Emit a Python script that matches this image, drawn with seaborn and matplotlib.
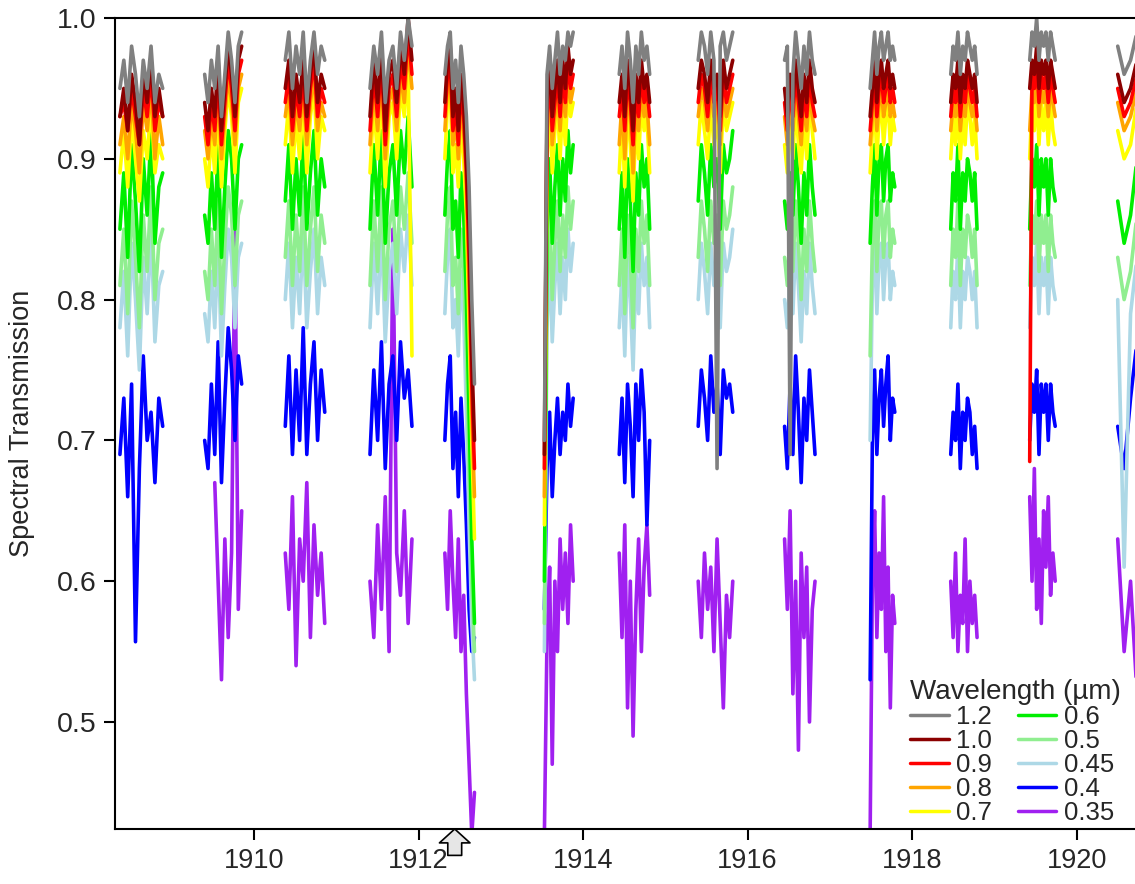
import numpy as np
import pandas as pd
import matplotlib
matplotlib.use('Agg')
import matplotlib.pyplot as plt
import seaborn as sns
from matplotlib.lines import Line2D

# observing seasons (decimal year of first / last observation)
season_start = [1908.37, 1909.40, 1910.38, 1911.41, 1912.32, 1913.53, 1914.44,
                1915.40, 1916.45, 1917.49, 1918.47, 1919.43, 1920.50]
season_end = [1908.89, 1909.85, 1910.86, 1911.92, 1912.68, 1913.88, 1914.81,
              1915.82, 1916.82, 1917.79, 1918.79, 1919.74, 1920.89]

katmai = 1912.44  # arrow under the axis

wavelengths = ['1.2', '1.0', '0.9', '0.8', '0.7', '0.6', '0.5', '0.45', '0.4', '0.35']
colors = ['#808080', '#8b0000', '#ff0000', '#ffa500', '#ffff00',
          '#00ee00', '#90ee90', '#add8e6', '#0000ff', '#a020f0']

nan = np.nan

t_12 = [
    [0.95, 0.97, 0.94, 0.98, 0.96, 0.93, 0.97, 0.95, 0.98, 0.94, 0.96, 0.95],
    [0.96, 0.94, 0.97, 0.95, 0.98, 0.93, 0.96, 0.99, 0.97, 0.94, 0.98, 0.99],
    [0.97, 0.99, 0.95, 0.98, 0.96, 0.99, 0.94, 0.97, 0.99, 0.96, 0.98, 0.97],
    [0.95, 0.98, 0.96, 0.99, 0.94, 0.97, 0.98, 0.95, 0.99, 0.97, 1.00, 0.98],
    [0.96, 0.98, 0.99, 0.95, 0.97, 0.94, 0.98, 0.96, 0.93, 0.88, 0.80, 0.74],
    [0.70, 0.96, 0.98, 0.95, 0.97, 0.99, 0.96, 0.98, 0.97, 0.99, 0.98, 0.99],
    [0.96, 0.98, 0.95, 0.99, 0.97, 0.94, 0.98, 0.96, 0.99, 0.97, 0.98, 0.96],
    [0.97, 0.99, 0.98, 0.96, 0.99, 0.97, 0.68, 0.98, 0.99, 0.97, 0.98, 0.99],
    [0.97, 0.98, 0.69, 0.96, 0.99, 0.97, 0.95, 0.98, 0.96, 0.99, 0.97, 0.96],
    [0.95, 0.97, 0.99, 0.96, 0.98, 0.99, 0.97, 0.98, 0.99, 0.97, 0.98, 0.97],
    [0.96, 0.98, 0.97, 0.99, 0.96, 0.98, 0.97, 0.99, 0.98, 0.97, 0.98, 0.96],
    [0.97, 0.99, 0.98, 1.00, 0.97, 0.99, 0.98, 0.99, 0.97, 0.99, 0.98, 0.97],
    [0.98, 0.96, 0.97, 0.99, 0.98, 0.97],
]
t_10 = [
    [0.93, 0.95, 0.92, 0.96, 0.94, 0.91, 0.96, 0.94, 0.97, 0.93, 0.95, 0.93],
    [0.94, 0.92, 0.95, 0.93, 0.97, 0.92, 0.95, 0.98, 0.96, 0.93, 0.97, 0.98],
    [0.95, 0.97, 0.93, 0.96, 0.94, 0.97, 0.93, 0.96, 0.98, 0.94, 0.96, 0.95],
    [0.93, 0.97, 0.94, 0.98, 0.92, 0.96, 0.97, 0.94, 0.98, 0.96, 1.00, 0.97],
    [0.94, 0.97, 0.98, 0.93, 0.95, 0.92, 0.96, 0.94, 0.90, 0.85, 0.76, 0.70],
    [0.69, 0.94, 0.97, 0.93, 0.95, 0.97, 0.94, 0.97, 0.95, 0.98, 0.96, 0.97],
    [0.94, 0.96, 0.93, 0.97, 0.95, 0.92, 0.96, 0.94, 0.97, 0.95, 0.96, 0.94],
    [0.95, 0.97, 0.96, 0.94, 0.97, 0.95, 0.96, 0.93, 0.97, 0.95, 0.96, 0.97],
    [0.95, 0.93, 0.96, 0.94, 0.97, 0.95, 0.93, 0.96, 0.94, 0.97, 0.95, 0.94],
    [0.93, 0.95, 0.97, 0.94, 0.96, 0.97, 0.95, 0.96, 0.97, 0.95, 0.96, 0.95],
    [0.94, 0.96, 0.95, 0.97, 0.94, 0.96, 0.95, 0.97, 0.96, 0.95, 0.96, 0.94],
    [0.95, 0.97, 0.96, 0.98, 0.95, 0.97, 0.96, 0.97, 0.95, 0.97, 0.96, 0.95],
    [0.96, 0.94, 0.95, 0.97, 0.96, 0.95],
]
t_09 = [
    [0.93, 0.94, 0.92, 0.95, 0.93, 0.91, 0.95, 0.93, 0.96, 0.92, 0.94, 0.93],
    [0.93, 0.91, 0.94, 0.92, 0.96, 0.91, 0.94, 0.97, 0.95, 0.92, 0.96, 0.97],
    [0.94, 0.96, 0.92, 0.95, 0.93, 0.96, 0.92, 0.95, 0.97, 0.93, 0.95, 0.94],
    [0.92, 0.96, 0.93, 0.97, 0.91, 0.95, 0.96, 0.93, 0.97, 0.95, 0.99, 0.96],
    [0.93, 0.96, 0.97, 0.92, 0.94, 0.91, 0.95, 0.93, 0.89, 0.83, 0.74, 0.68],
    [0.68, 0.93, 0.96, 0.92, 0.94, 0.96, 0.93, 0.96, 0.94, 0.97, 0.95, 0.96],
    [0.93, 0.95, 0.92, 0.96, 0.94, 0.91, 0.95, 0.93, 0.96, 0.94, 0.95, 0.93],
    [0.94, 0.96, 0.95, 0.93, 0.96, 0.94, 0.95, 0.92, 0.96, 0.94, 0.95, 0.96],
    [0.94, 0.92, 0.95, 0.93, 0.96, 0.94, 0.92, 0.95, 0.93, 0.96, 0.94, 0.93],
    [0.92, 0.94, 0.96, 0.93, 0.95, 0.96, 0.94, 0.95, 0.96, 0.94, 0.95, 0.94],
    [0.93, 0.95, 0.94, 0.96, 0.93, 0.95, 0.94, 0.96, 0.95, 0.94, 0.95, 0.93],
    [0.685, 0.96, 0.95, 0.97, 0.94, 0.96, 0.95, 0.96, 0.94, 0.96, 0.95, 0.94],
    [0.95, 0.93, 0.94, 0.96, 0.95, 0.94],
]
t_08 = [
    [0.91, 0.93, 0.90, 0.94, 0.92, 0.89, 0.94, 0.92, 0.95, 0.90, 0.93, 0.91],
    [0.92, 0.90, 0.93, 0.91, 0.95, 0.90, 0.93, 0.96, 0.94, 0.91, 0.95, 0.96],
    [0.93, 0.95, 0.91, 0.94, 0.92, 0.95, 0.91, 0.94, 0.96, 0.92, 0.94, 0.93],
    [0.91, 0.95, 0.92, 0.96, 0.90, 0.94, 0.95, 0.92, 0.96, 0.94, 0.98, 0.95],
    [0.92, 0.95, 0.96, 0.91, 0.93, 0.90, 0.94, 0.92, 0.88, 0.81, 0.72, 0.66],
    [0.66, 0.92, 0.95, 0.91, 0.93, 0.95, 0.92, 0.95, 0.93, 0.96, 0.94, 0.95],
    [0.91, 0.94, 0.90, 0.95, 0.93, 0.89, 0.94, 0.92, 0.95, 0.93, 0.94, 0.91],
    [0.93, 0.95, 0.94, 0.92, 0.95, 0.93, 0.94, 0.91, 0.95, 0.93, 0.94, 0.95],
    [0.93, 0.91, 0.94, 0.92, 0.95, 0.93, 0.91, 0.94, 0.92, 0.95, 0.93, 0.92],
    [0.91, 0.93, 0.95, 0.92, 0.94, 0.95, 0.93, 0.94, 0.95, 0.93, 0.94, 0.93],
    [0.92, 0.94, 0.93, 0.95, 0.92, 0.94, 0.93, 0.95, 0.94, 0.93, 0.94, 0.92],
    [0.92, 0.95, 0.94, 0.96, 0.93, 0.95, 0.94, 0.95, 0.93, 0.95, 0.94, 0.93],
    [0.94, 0.92, 0.93, 0.95, 0.94, 0.93],
]
t_07 = [
    [0.89, 0.92, 0.88, 0.93, 0.90, 0.87, 0.92, 0.90, 0.94, 0.89, 0.91, 0.90],
    [0.90, 0.88, 0.92, 0.89, 0.94, 0.88, 0.92, 0.95, 0.93, 0.89, 0.94, 0.95],
    [0.91, 0.94, 0.89, 0.93, 0.90, 0.94, 0.89, 0.93, 0.95, 0.90, 0.93, 0.92],
    [0.89, 0.94, 0.90, 0.95, 0.88, 0.93, 0.94, 0.90, 0.95, 0.93, 0.97, 0.76],
    [0.90, 0.94, 0.95, 0.89, 0.91, 0.88, 0.93, 0.90, 0.86, 0.78, 0.70, 0.63],
    [0.64, 0.90, 0.94, 0.89, 0.92, 0.94, 0.90, 0.94, 0.91, 0.95, 0.93, 0.94],
    [0.89, 0.93, 0.88, 0.94, 0.91, 0.87, 0.93, 0.90, 0.94, 0.92, 0.93, 0.89],
    [0.91, 0.94, 0.92, 0.90, 0.94, 0.91, 0.93, 0.89, 0.94, 0.92, 0.93, 0.94],
    [0.91, 0.89, 0.93, 0.90, 0.94, 0.91, 0.89, 0.93, 0.90, 0.94, 0.92, 0.90],
    [0.89, 0.92, 0.94, 0.90, 0.93, 0.94, 0.91, 0.93, 0.94, 0.91, 0.93, 0.92],
    [0.90, 0.93, 0.91, 0.94, 0.90, 0.93, 0.91, 0.94, 0.93, 0.91, 0.93, 0.90],
    [0.90, 0.94, 0.92, 0.95, 0.91, 0.94, 0.92, 0.94, 0.91, 0.94, 0.92, 0.91],
    [0.92, 0.90, 0.91, 0.94, 0.92, 0.91],
]
t_06 = [
    [0.85, 0.89, 0.83, 0.91, 0.87, 0.82, 0.90, 0.86, 0.92, 0.84, 0.88, 0.89],
    [0.86, 0.84, 0.89, 0.85, 0.91, 0.83, 0.88, 0.92, 0.90, 0.85, 0.90, 0.91],
    [0.87, 0.91, 0.85, 0.90, 0.86, 0.92, 0.85, 0.89, 0.92, 0.86, 0.90, 0.88],
    [0.85, 0.91, 0.86, 0.92, 0.84, 0.89, 0.91, 0.86, 0.92, 0.89, 0.93, 0.88],
    [0.86, 0.90, 0.92, 0.85, 0.87, 0.83, 0.89, 0.86, 0.80, 0.72, 0.63, 0.57],
    [0.60, 0.85, 0.90, 0.84, 0.88, 0.91, 0.86, 0.90, 0.87, 0.92, 0.89, 0.91],
    [0.85, 0.89, 0.83, 0.90, 0.87, 0.82, 0.89, 0.86, 0.91, 0.88, 0.90, 0.85],
    [0.87, 0.91, 0.89, 0.86, 0.91, 0.88, 0.90, 0.85, 0.91, 0.89, 0.90, 0.92],
    [0.87, 0.85, 0.89, 0.86, 0.91, 0.88, 0.84, 0.89, 0.86, 0.91, 0.88, 0.86],
    [0.84, 0.88, 0.91, 0.86, 0.90, 0.91, 0.87, 0.90, 0.91, 0.87, 0.89, 0.88],
    [0.85, 0.89, 0.87, 0.91, 0.85, 0.89, 0.87, 0.90, 0.89, 0.87, 0.89, 0.85],
    [0.85, 0.90, 0.88, 0.91, 0.86, 0.90, 0.88, 0.90, 0.86, 0.90, 0.88, 0.87],
    [0.87, 0.84, 0.86, 0.90, 0.88, 0.86],
]
t_05 = [
    [0.81, 0.85, 0.79, 0.87, 0.83, 0.78, 0.86, 0.82, 0.88, 0.80, 0.84, 0.85],
    [0.82, 0.80, 0.85, 0.81, 0.87, 0.79, 0.84, 0.88, 0.86, 0.81, 0.86, 0.87],
    [0.83, 0.87, 0.81, 0.86, 0.82, 0.88, 0.81, 0.85, 0.88, 0.82, 0.86, 0.84],
    [0.81, 0.87, 0.82, 0.88, 0.80, 0.85, 0.87, 0.82, 0.88, 0.85, 0.89, 0.84],
    [0.82, 0.86, 0.88, 0.81, 0.83, 0.79, 0.85, 0.82, 0.76, 0.68, 0.60, 0.55],
    [0.57, 0.81, 0.86, 0.80, 0.84, 0.87, 0.82, 0.86, 0.83, 0.88, 0.85, 0.87],
    [0.81, 0.85, 0.79, 0.86, 0.83, 0.78, 0.85, 0.82, 0.87, 0.84, 0.86, 0.81],
    [0.83, 0.87, 0.85, 0.82, 0.87, 0.84, 0.86, 0.81, 0.87, 0.85, 0.86, 0.88],
    [0.83, 0.81, 0.85, 0.82, 0.87, 0.84, 0.80, 0.85, 0.82, 0.87, 0.84, 0.82],
    [0.76, 0.84, 0.87, 0.82, 0.86, 0.87, 0.83, 0.86, 0.87, 0.83, 0.85, 0.84],
    [0.81, 0.85, 0.83, 0.87, 0.81, 0.85, 0.83, 0.86, 0.85, 0.83, 0.85, 0.81],
    [0.81, 0.86, 0.84, 0.87, 0.82, 0.86, 0.84, 0.86, 0.82, 0.86, 0.84, 0.83],
    [0.83, 0.80, 0.82, 0.86, 0.84, 0.82],
]
t_045 = [
    [0.78, 0.82, 0.76, 0.84, 0.80, 0.75, 0.83, 0.79, 0.85, 0.77, 0.81, 0.82],
    [0.79, 0.77, 0.82, 0.78, 0.84, 0.76, 0.81, 0.85, 0.83, 0.78, 0.83, 0.84],
    [0.80, 0.84, 0.78, 0.83, 0.79, 0.85, 0.78, 0.82, 0.85, 0.79, 0.83, 0.81],
    [0.78, 0.84, 0.79, 0.85, 0.77, 0.82, 0.84, 0.79, 0.85, 0.82, 0.86, 0.81],
    [0.79, 0.83, 0.85, 0.78, 0.80, 0.76, 0.82, 0.79, 0.72, 0.64, 0.57, 0.53],
    [0.55, 0.78, 0.83, 0.77, 0.81, 0.84, 0.79, 0.83, 0.80, 0.85, 0.82, 0.84],
    [0.78, 0.82, 0.76, 0.83, 0.80, 0.75, 0.82, 0.79, 0.84, 0.81, 0.83, 0.78],
    [0.80, 0.84, 0.82, 0.79, 0.84, 0.81, 0.83, 0.78, 0.84, 0.82, 0.83, 0.85],
    [0.80, 0.78, 0.82, 0.79, 0.84, 0.81, 0.77, 0.82, 0.79, 0.84, 0.81, 0.79],
    [0.70, 0.81, 0.84, 0.79, 0.83, 0.84, 0.80, 0.83, 0.84, 0.80, 0.82, 0.81],
    [0.78, 0.82, 0.80, 0.84, 0.78, 0.82, 0.80, 0.83, 0.82, 0.80, 0.82, 0.78],
    [0.78, 0.83, 0.81, 0.84, 0.79, 0.83, 0.81, 0.83, 0.79, 0.83, 0.81, 0.80],
    [0.80, 0.61, 0.79, 0.83, 0.81, 0.79],
]
t_04 = [
    [0.69, 0.73, 0.66, 0.74, 0.557, 0.68, 0.76, 0.70, 0.72, 0.67, 0.73, 0.71],
    [0.70, 0.68, 0.74, 0.69, 0.77, 0.67, 0.73, 0.78, 0.75, 0.70, 0.76, 0.74],
    [0.71, 0.76, 0.69, 0.75, 0.70, 0.78, 0.69, 0.74, 0.77, 0.70, 0.75, 0.72],
    [0.69, 0.75, 0.70, 0.77, 0.68, 0.74, 0.76, 0.70, 0.77, 0.73, 0.75, 0.71],
    [0.70, 0.74, 0.76, 0.68, 0.72, 0.66, 0.73, 0.69, 0.64, 0.58, 0.55, 0.56],
    [0.58, 0.68, 0.72, 0.66, 0.70, 0.73, 0.69, 0.72, 0.70, 0.74, 0.71, 0.73],
    [0.69, 0.73, 0.67, 0.74, 0.71, 0.66, 0.74, 0.70, 0.75, 0.72, 0.64, 0.70],
    [0.71, 0.75, 0.73, 0.70, 0.76, 0.72, 0.74, 0.69, 0.75, 0.73, 0.74, 0.72],
    [0.71, 0.68, 0.74, 0.69, 0.76, 0.72, 0.67, 0.73, 0.70, 0.75, 0.72, 0.69],
    [0.53, 0.70, 0.75, 0.69, 0.73, 0.75, 0.71, 0.74, 0.76, 0.70, 0.73, 0.72],
    [0.69, 0.72, 0.70, 0.74, 0.68, 0.72, 0.70, 0.73, 0.72, 0.69, 0.71, 0.68],
    [0.70, 0.74, 0.72, 0.75, 0.69, 0.74, 0.72, 0.74, 0.70, 0.74, 0.72, 0.71],
    [0.71, 0.68, 0.73, 0.77, 0.72, 0.70],
]
t_035 = [
    [nan] * 12,
    [nan, nan, nan, 0.67, 0.60, 0.53, 0.63, 0.56, 0.62, 0.85, 0.58, 0.65],
    [0.62, 0.58, 0.66, 0.54, 0.63, 0.60, 0.67, 0.56, 0.64, 0.59, 0.62, 0.57],
    [0.60, 0.56, 0.64, 0.58, 0.66, 0.55, 0.85, 0.62, 0.59, 0.65, 0.57, 0.63],
    [0.62, 0.58, 0.65, 0.60, 0.56, 0.63, 0.55, 0.59, 0.52, 0.47, 0.42, 0.45],
    [0.42, 0.56, 0.61, 0.47, 0.60, 0.55, 0.63, 0.58, 0.62, 0.57, 0.64, 0.60],
    [0.62, 0.56, 0.64, 0.51, 0.60, 0.49, 0.58, 0.63, 0.55, 0.61, 0.64, 0.59],
    [0.60, 0.56, 0.62, 0.58, 0.61, 0.55, 0.63, 0.57, 0.51, 0.59, 0.56, 0.60],
    [0.63, 0.58, 0.65, 0.52, 0.60, 0.48, 0.62, 0.56, 0.61, 0.50, 0.58, 0.60],
    [0.42, 0.60, 0.65, 0.56, 0.62, 0.58, 0.66, 0.55, 0.61, 0.51, 0.59, 0.57],
    [0.60, 0.56, 0.62, 0.55, 0.59, 0.57, 0.63, 0.55, 0.60, 0.57, 0.59, 0.56],
    [0.66, 0.60, 0.68, 0.58, 0.63, 0.57, 0.65, 0.61, 0.66, 0.59, 0.62, 0.60],
    [0.63, 0.55, 0.60, 0.52, 0.58, 0.62],
]

series = [t_12, t_10, t_09, t_08, t_07, t_06, t_05, t_045, t_04, t_035]

# long table: one row per observation
rows = []
for wl, seasons in zip(wavelengths, series):
    for i, vals in enumerate(seasons):
        dates = np.linspace(season_start[i], season_end[i], len(vals))
        for d, v in zip(dates, vals):
            rows.append((wl, i, d, v))
df = pd.DataFrame(rows, columns=['wavelength', 'season', 'year', 'transmission'])
df = df.dropna()

sns.set_style('ticks')
plt.rcParams['font.family'] = ['Liberation Sans', 'DejaVu Sans']

fig = plt.figure(figsize=(11.35, 8.84), dpi=100)
ax = fig.add_axes([115 / 1135, 55 / 884, 1020 / 1135, 811 / 884])

# shortest wavelength first so the long ones sit on top
for wl, col in reversed(list(zip(wavelengths, colors))):
    sub = df[df['wavelength'] == wl]
    sns.lineplot(data=sub, x='year', y='transmission', units='season',
                 estimator=None, color=col, lw=2.6, legend=False, ax=ax)

ax.set_xlim(1908.31, 1920.71)
ax.set_ylim(0.424, 1.0)
ax.set_xticks([1910, 1912, 1914, 1916, 1918, 1920])
ax.set_yticks([0.5, 0.6, 0.7, 0.8, 0.9, 1.0])
ax.set_yticklabels(['0.5', '0.6', '0.7', '0.8', '0.9', '1.0'])
ax.tick_params(axis='both', direction='out', length=8, width=1.5, color='black')
ax.tick_params(axis='x', labelsize=19.5, pad=6)
ax.tick_params(axis='y', labelsize=20.5, pad=5)
ax.set_xlabel('')
ax.set_ylabel('Spectral Transmission', fontsize=19.5)
ax.yaxis.set_label_coords(-0.078, 0.5)

for side in ['left', 'bottom', 'top']:
    ax.spines[side].set_linewidth(1.5)
    ax.spines[side].set_color('black')
ax.spines['right'].set_visible(False)

ax.annotate('', xy=(katmai, 0.424), xycoords='data',
            xytext=(0, -19), textcoords='offset points',
            arrowprops=dict(arrowstyle='simple,head_length=0.5,head_width=1.1,tail_width=0.5',
                            fc='#e6e6e6', ec='black', lw=1.2, mutation_scale=20,
                            shrinkA=0, shrinkB=0),
            annotation_clip=False)

handles = [Line2D([0], [0], color=c, lw=2.5) for c in colors]
leg = ax.legend(handles, wavelengths, title='Wavelength (\u00b5m)', ncol=2,
                loc='lower right', bbox_to_anchor=(0.99, 0.0), frameon=False,
                fontsize=18.5, title_fontsize=20, handlelength=1.5,
                handletextpad=0.3, columnspacing=1.0, labelspacing=0.0,
                borderaxespad=0.0, borderpad=0.15, alignment='left')

fig.savefig('out.png', dpi=100)
